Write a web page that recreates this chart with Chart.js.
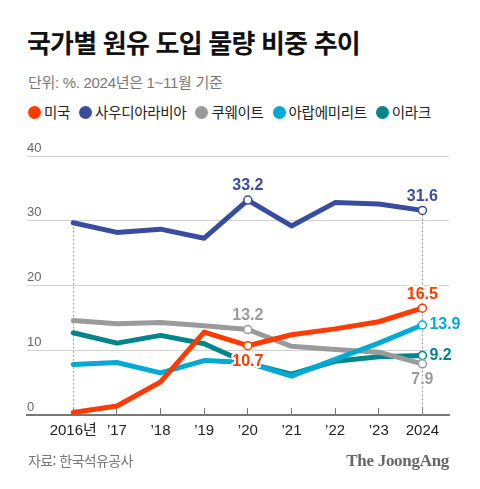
<!DOCTYPE html>
<html lang="ko">
<head>
<meta charset="utf-8">
<script src="https://cdn.jsdelivr.net/npm/chart.js@4"></script>
<style>
  body { margin: 0; background: #fff; }
  #wrap { position: relative; width: 480px; height: 489px; overflow: hidden; font-family: "Noto Sans CJK KR", sans-serif; }
  #chart { position: absolute; left: 0; top: 0; }
  .title { position: absolute; left: 27px; top: 26px; font-size: 26px; font-weight: 700; line-height: 32px; letter-spacing: -0.8px; color: #111; white-space: nowrap; }
  .sub { position: absolute; left: 28px; top: 74px; font-family: "Liberation Sans", "Noto Sans CJK KR", sans-serif; font-size: 15px; line-height: 18px; color: #777; letter-spacing: -0.3px; white-space: nowrap; }
  .legend { position: absolute; left: 28px; top: 103px; display: flex; font-size: 14.5px; line-height: 18px; color: #222; white-space: nowrap; letter-spacing: -0.3px; }
  .legend span { display: flex; align-items: center; margin-right: 9px; }
  .legend i { width: 13px; height: 13px; border-radius: 50%; margin-right: 3px; display: inline-block; }
  .src { position: absolute; left: 28px; top: 451px; font-size: 14px; line-height: 18px; color: #777; letter-spacing: -0.6px; }
  .logo { position: absolute; right: 31px; top: 451px; font-family: "Liberation Serif", serif; font-weight: bold; font-size: 17px; line-height: 20px; color: #666; letter-spacing: -0.3px; }
</style>
</head>
<body>
<div id="wrap">
  <div class="title">국가별 원유 도입 물량 비중 추이</div>
  <div class="sub">단위: %. 2024년은 1~11월 기준</div>
  <div class="legend" id="legend"></div>
  <canvas id="chart" width="480" height="489"></canvas>
  <div class="src">자료: 한국석유공사</div>
  <div class="logo">The JoongAng</div>
</div>
<script>
// values
const years = [2016, 2017, 2018, 2019, 2020, 2021, 2022, 2023, 2024];
const xLabels = ['2016년', '’17', '’18', '’19', '’20', '’21', '’22', '’23', '2024'];
const yTicks = [0, 10, 20, 30, 40];

const usa = [0.4, 1.4, 5.1, 12.8, 10.7, 12.4, 13.3, 14.4, 16.5];
const saudi = [29.7, 28.2, 28.7, 27.3, 33.2, 29.2, 32.8, 32.6, 31.6];
const kuwait = [14.6, 14.1, 14.3, 13.8, 13.2, 10.6, 10.1, 9.7, 7.9];
const uae = [7.8, 8.1, 6.5, 8.4, 8.1, 6.0, 8.6, 11.1, 13.9];
const iraq = [12.7, 11.1, 12.3, 11.0, 8.0, 6.3, 8.3, 9.0, 9.2];

const seriesNames = ['미국', '사우디아라비아', '쿠웨이트', '아랍에미리트', '이라크'];
const seriesColors = ['#fe3b02', '#394d9f', '#9a9a9a', '#00aad4', '#00858a'];
const seriesValues = [usa, saudi, kuwait, uae, iraq];
const drawOrder = [1, 5, 3, 2, 4];

// which points get a marker and a value label
const marked = [[4, 8], [4, 8], [4, 8], [8], [8]];
const valueLabels = [
    { s: 1, i: 4, pos: 'above' },
    { s: 1, i: 8, pos: 'above' },
    { s: 0, i: 4, pos: 'below' },
    { s: 0, i: 8, pos: 'above' },
    { s: 2, i: 4, pos: 'above' },
    { s: 2, i: 8, pos: 'below' },
    { s: 3, i: 8, pos: 'right' },
    { s: 4, i: 8, pos: 'right' }
];

const legend = document.getElementById('legend');
seriesNames.forEach((name, k) => {
    const item = document.createElement('span');
    item.innerHTML = `<i style="background:${seriesColors[k]}"></i>${name}`;
    legend.appendChild(item);
});

const guideLines = {
    id: 'guideLines',
    beforeDatasetsDraw(chart) {
        const { ctx, scales: { x, y } } = chart;
        ctx.save();
        ctx.strokeStyle = '#999';
        ctx.lineWidth = 1;
        ctx.setLineDash([2, 2]);
        [0, years.length - 1].forEach(i => {
            const px = Math.round(x.getPixelForValue(years[i])) + 0.5;
            ctx.beginPath();
            ctx.moveTo(px, y.getPixelForValue(saudi[i]));
            ctx.lineTo(px, y.getPixelForValue(0));
            ctx.stroke();
        });
        ctx.restore();
    }
};

const valueText = {
    id: 'valueText',
    afterDatasetsDraw(chart) {
        const { ctx, scales: { x, y } } = chart;
        ctx.save();
        ctx.font = 'bold 16px "Liberation Sans", Arial, sans-serif';
        ctx.lineJoin = 'round';
        valueLabels.forEach(l => {
            const v = seriesValues[l.s][l.i];
            const px = x.getPixelForValue(years[l.i]);
            const py = y.getPixelForValue(v);
            let tx = px, ty = py;
            ctx.textAlign = 'center';
            ctx.textBaseline = 'middle';
            if (l.pos === 'above') ty = py - 14;
            if (l.pos === 'below') ty = py + 16;
            if (l.pos === 'right') { tx = px + 7; ctx.textAlign = 'left'; }
            const txt = v.toFixed(1);
            ctx.strokeStyle = '#fff';
            ctx.lineWidth = 4;
            ctx.strokeText(txt, tx, ty);
            ctx.fillStyle = seriesColors[l.s];
            ctx.fillText(txt, tx, ty);
        });
        ctx.restore();
    }
};

new Chart(document.getElementById('chart'), {
    type: 'line',
    data: {
        datasets: seriesValues.map((vals, k) => ({
            label: seriesNames[k],
            data: vals.map((v, i) => ({ x: years[i], y: v })),
            borderColor: seriesColors[k],
            borderWidth: 5,
            borderJoinStyle: 'round',
            borderCapStyle: 'round',
            tension: 0,
            order: drawOrder[k],
            pointRadius: (c) => marked[k].includes(c.dataIndex) ? 4 : 0,
            pointBackgroundColor: '#fff',
            pointBorderColor: seriesColors[k],
            pointBorderWidth: 1.5
        }))
    },
    options: {
        responsive: false,
        animation: false,
        events: [],
        layout: { padding: { left: 27, right: 31, top: 156, bottom: 44 } },
        plugins: { legend: { display: false }, tooltip: { enabled: false } },
        scales: {
            x: {
                type: 'linear',
                min: 2014.94,
                max: 2024.61,
                afterBuildTicks: (s) => { s.ticks = years.map(v => ({ value: v })); },
                afterFit: (s) => { s.height = 30; },
                border: { display: true, color: '#777', width: 2 },
                grid: { drawOnChartArea: false, drawTicks: true, tickLength: -7, color: '#777', lineWidth: 1 },
                ticks: {
                    padding: 14,
                    color: '#222',
                    font: { family: '"Liberation Sans", "Noto Sans CJK KR", sans-serif', size: 15 },
                    callback: (v) => xLabels[years.indexOf(v)],
                    maxRotation: 0,
                    autoSkip: false
                }
            },
            y: {
                min: 0,
                max: 40,
                afterBuildTicks: (s) => { s.ticks = yTicks.map(v => ({ value: v })); },
                afterFit: (s) => { s.width = 0; },
                border: { display: false },
                grid: { drawTicks: false, color: (c) => c.tick && c.tick.value === 0 ? 'rgba(0,0,0,0)' : '#d0d0d0', lineWidth: 1 },
                ticks: {
                    mirror: true,
                    padding: 0,
                    labelOffset: -8,
                    color: '#666',
                    font: { family: '"Liberation Sans", Arial, sans-serif', size: 13 }
                }
            }
        }
    },
    plugins: [guideLines, valueText]
});
</script>
</body>
</html>
